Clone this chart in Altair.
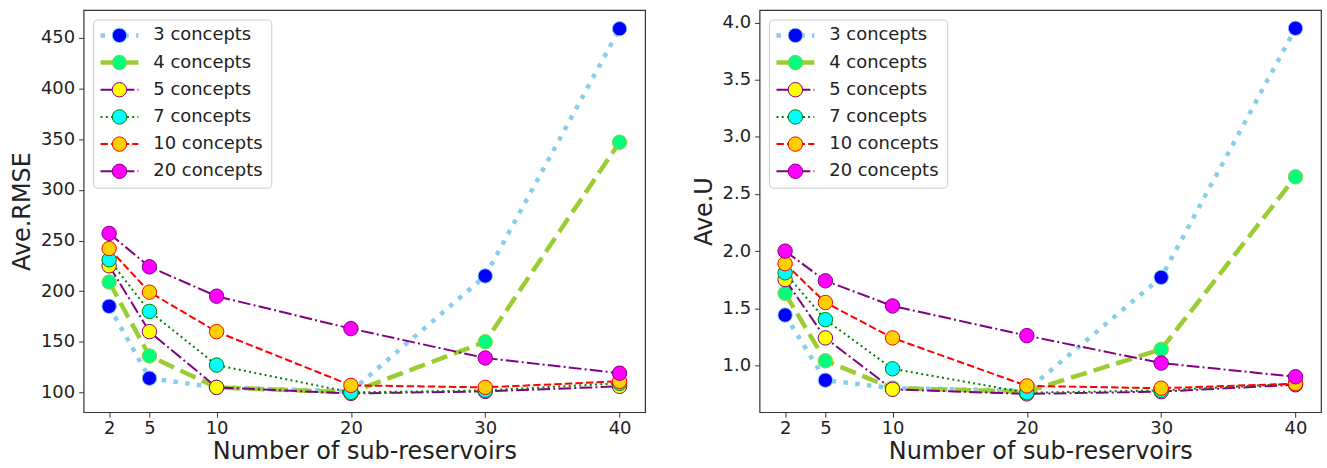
import altair as alt
import pandas as pd

x_vals = [2, 5, 10, 20, 30, 40]
series_names = ["3 concepts", "4 concepts", "5 concepts", "7 concepts", "10 concepts", "20 concepts"]

rmse_3 = [185, 114, 105, 101, 215, 459]
rmse_4 = [209, 136, 105, 100, 150, 347]
rmse_5 = [225, 160, 105, 99, 101, 106]
rmse_7 = [231, 180, 127, 100, 102, 109]
rmse_10 = [242, 199, 160, 107, 105, 111]
rmse_20 = [257, 224, 195, 163, 134, 119]

u_3 = [1.44, 0.87, 0.80, 0.78, 1.77, 3.95]
u_4 = [1.63, 1.04, 0.80, 0.77, 1.14, 2.65]
u_5 = [1.75, 1.24, 0.79, 0.75, 0.77, 0.83]
u_7 = [1.81, 1.40, 0.97, 0.76, 0.78, 0.84]
u_10 = [1.89, 1.55, 1.24, 0.82, 0.80, 0.84]
u_20 = [2.00, 1.74, 1.52, 1.26, 1.02, 0.90]

rmse_ticks = [100, 150, 200, 250, 300, 350, 400, 450]
u_ticks = [1.0, 1.5, 2.0, 2.5, 3.0, 3.5, 4.0]

line_colors = ["#87CEEB", "#9ACD32", "#800080", "#008000", "#FF0000", "#800080"]
marker_fills = ["#0000FF", "#00FF7F", "#FFFF00", "#00FFFF", "#FFD000", "#FF00FF"]
line_widths = [4.5, 4.5, 2, 2, 2, 2]
dashes = [[4.5, 7.4], [16.6, 7.2], [12.8, 3.2, 2, 3.2], [2, 3.3], [7.4, 3.2], [12.8, 3.2, 2, 3.2]]

PW, PH = 564, 404
FONT = "DejaVu Sans"


def make_df(series_values):
    rows = []
    for name, vals in zip(series_names, series_values):
        for n, v in zip(x_vals, vals):
            rows.append({"series": name, "n": n, "v": v})
    return pd.DataFrame(rows)


def panel(series_values, ytitle, ydomain, yticks, yfmt):
    df = make_df(series_values)
    xenc = alt.X("n:Q", scale=alt.Scale(domain=[0.1, 41.9], nice=False, zero=False),
                 axis=alt.Axis(values=x_vals, title="Number of sub-reservoirs", format="d",
                               labelPadding=2, titlePadding=3))
    yenc = alt.Y("v:Q", scale=alt.Scale(domain=ydomain, nice=False, zero=False),
                 axis=alt.Axis(values=yticks, title=ytitle, format=yfmt))
    layers = []
    for i, name in enumerate(series_names):
        base = alt.Chart(df).transform_filter(alt.datum.series == name)
        layers.append(base.mark_line(color=line_colors[i], strokeWidth=line_widths[i],
                                     strokeDash=dashes[i], strokeJoin="round").encode(x=xenc, y=yenc))
        layers.append(base.mark_circle(size=210, color=marker_fills[i], opacity=1,
                                       stroke=line_colors[i], strokeWidth=1).encode(x=xenc, y=yenc))
    one = pd.DataFrame({"k": [0]})
    layers.append(alt.Chart(one).mark_rect(fill="white", fillOpacity=0.85, stroke="#cccccc",
                                           strokeWidth=1, cornerRadius=4).encode(
        x=alt.value(10), x2=alt.value(189), y=alt.value(10), y2=alt.value(179)))
    for i, name in enumerate(series_names):
        yy = 25.5 + i * 27.3
        leg = alt.Chart(one)
        layers.append(leg.mark_rule(color=line_colors[i], strokeWidth=line_widths[i],
                                    strokeDash=dashes[i]).encode(
            x=alt.value(17), x2=alt.value(55), y=alt.value(yy)))
        layers.append(leg.mark_circle(size=210, color=marker_fills[i], opacity=1,
                                      stroke=line_colors[i], strokeWidth=1).encode(
            x=alt.value(36), y=alt.value(yy)))
        layers.append(leg.mark_text(align="left", baseline="middle", fontSize=18, font=FONT,
                                    color="#222222").encode(
            x=alt.value(70), y=alt.value(yy), text=alt.value(name)))
    return alt.layer(*layers).properties(width=PW, height=PH)


left = panel([rmse_3, rmse_4, rmse_5, rmse_7, rmse_10, rmse_20], "Ave.RMSE",
             [80.5, 477.5], rmse_ticks, "d")
right = panel([u_3, u_4, u_5, u_7, u_10, u_20], "Ave.U",
              [0.59, 4.11], u_ticks, ".1f")

chart = alt.hconcat(left, right, spacing=45).properties(
    padding={"left": 10, "top": 8, "right": 5, "bottom": 0}
).configure_view(stroke="#333333", strokeWidth=1.2).configure_axis(
    grid=False, domain=False, tickSize=5, tickColor="#333333", labelPadding=4,
    labelFontSize=18, titleFontSize=24, titleFontWeight="normal", labelFont=FONT,
    titleFont=FONT, labelColor="#222222", titleColor="#222222", titlePadding=6
)

chart.save("out.html", embed_options={"renderer": "svg", "actions": False})
